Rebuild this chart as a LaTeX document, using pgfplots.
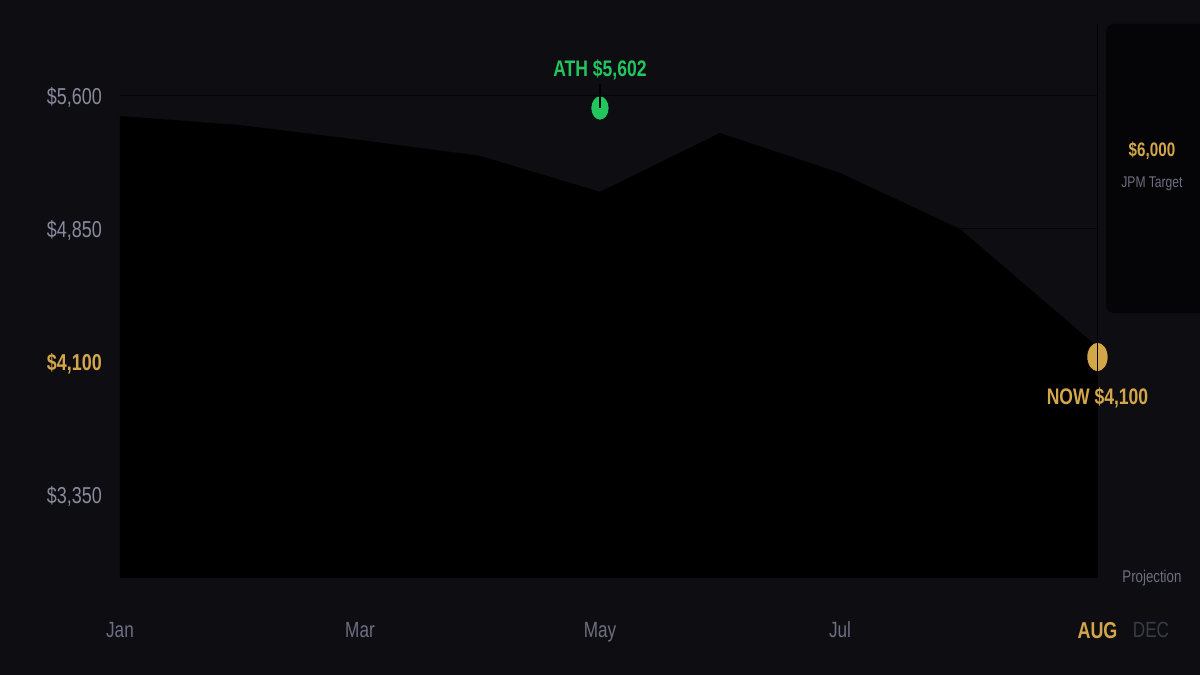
\documentclass[border=0pt]{standalone}
\usepackage{fontspec}
\usepackage{pgfplots}
\pgfplotsset{compat=1.18}
\setmainfont[FakeStretch=0.78]{Liberation Sans}
\definecolor{bg}{RGB}{13,13,18}
\definecolor{gridc}{RGB}{5,5,7}
\definecolor{boxc}{RGB}{5,5,7}
\definecolor{gold}{RGB}{212,166,74}
\definecolor{green}{RGB}{34,197,94}
\definecolor{tickc}{RGB}{138,138,158}
\definecolor{xtc}{RGB}{110,110,130}
\definecolor{decc}{RGB}{58,58,72}
\tikzset{
  f22/.style={font=\fontsize{22}{26}\selectfont, text height=15.75pt, text depth=0pt},
  f23/.style={font=\fontsize{23}{26}\selectfont, text height=16.47pt, text depth=0pt},
  f23b/.style={font=\bfseries\fontsize{23}{26}\selectfont, text height=16.47pt, text depth=0pt},
  f22b/.style={font=\bfseries\fontsize{22.5}{26}\selectfont, text height=16.1pt, text depth=0pt},
  f17/.style={font=\fontsize{17}{20}\selectfont, text height=12.2pt, text depth=0pt},
  f155/.style={font=\fontsize{15.5}{18}\selectfont, text height=11.1pt, text depth=0pt},
  f19b/.style={font=\bfseries\fontsize{19.5}{22}\selectfont, text height=14pt, text depth=0pt},
}
\begin{document}
\begin{tikzpicture}
\begin{axis}[
  at={(0,0)}, anchor=south west,
  width=1200pt, height=675pt, scale only axis,
  xmin=-1, xmax=9, ymin=2334.6, ymax=6141.35,
  hide axis, clip=false, clip marker paths=true,
]
% background
\fill[bg] (axis cs:-1,2334.6) rectangle (axis cs:9,6141.35);
% grid lines
\foreach \v in {3350,4100,4850,5600} {
  \edef\tmp{\noexpand\draw[gridc, line width=1pt] (axis cs:0,\v) -- (axis cs:8.146,\v);}\tmp
}
% price area
\addplot[fill=black, draw=none] coordinates {
  (0,2882) (0,5487) (1,5436) (2,5352) (3,5262) (4,5059) (5,5391)
  (6,5166) (7,4850) (8.146,4185) (8.146,2882)
};
% target box
\fill[boxc, rounded corners=8pt] (axis cs:8.217,6006) rectangle (axis cs:9.08,4376);
\node[f19b, text=gold] at (axis cs:8.6,5301) {\$6,000};
\node[f155, text=xtc] at (axis cs:8.6,5115) {JPM Target};
\node[f17, text=xtc] at (axis cs:8.6,2893) {Projection};
% ATH marker
\addplot[only marks, mark=*, mark size=12pt, mark options={xscale=0.75, fill=green, draw=none}] coordinates {(4,5532)};
\addplot[black, line width=1.2pt, no marks] coordinates {(4,5668) (4,5532)};
\node[f22b, text=green] at (axis cs:4,5758) {ATH \$5,602};
% NOW marker
\addplot[only marks, mark=*, mark size=14.5pt, mark options={xscale=0.72, fill=gold, draw=none}] coordinates {(8.146,4128)};
% vertical now line
\addplot[black, line width=1pt, no marks] coordinates {(8.146,6006) (8.146,2882)};
\node[f22b, text=gold] at (axis cs:8.146,3908) {NOW \$4,100};
% y labels
\node[anchor=east, inner xsep=0pt, f23, text=tickc] at (axis cs:-0.15,5600) {\$5,600};
\node[anchor=east, inner xsep=0pt, f23, text=tickc] at (axis cs:-0.15,4850) {\$4,850};
\node[anchor=east, inner xsep=0pt, f23b, text=gold] at (axis cs:-0.15,4100) {\$4,100};
\node[anchor=east, inner xsep=0pt, f23, text=tickc] at (axis cs:-0.15,3350) {\$3,350};
% x labels
\node[f22, text=xtc] at (axis cs:0,2588.7) {Jan};
\node[f22, text=xtc] at (axis cs:2,2588.7) {Mar};
\node[f22, text=xtc] at (axis cs:4,2588.7) {May};
\node[f22, text=xtc] at (axis cs:6,2588.7) {Jul};
\node[f23b, text=gold] at (axis cs:8.146,2588.7) {AUG};
\node[f22, text=decc] at (axis cs:8.592,2588.7) {DEC};
\end{axis}
\pgfresetboundingbox
\useasboundingbox (0,0) rectangle (1200pt,675pt);
\end{tikzpicture}
\end{document}
